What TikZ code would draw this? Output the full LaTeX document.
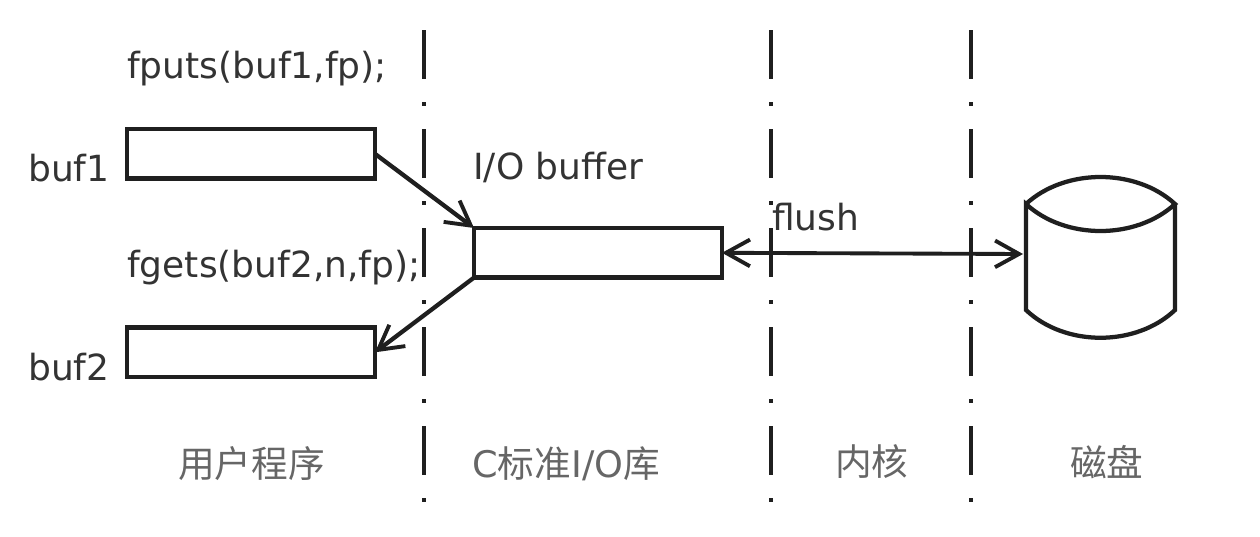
\documentclass[tikz,border=0pt]{standalone}
\usepackage{fontspec}
\setmainfont{DejaVu Sans}
\newfontfamily\cjk{Noto Sans CJK SC}
\usetikzlibrary{arrows.meta}
\tikzset{
  px/.style={x=0.75pt,y=-0.75pt},
  bufbox/.style={draw=black!88,line width=3.4pt,inner sep=0pt,outer sep=0pt,anchor=north west,minimum width=186pt,minimum height=37.2pt},
  lab/.style={text=black!80,font=\fontsize{27}{27}\selectfont,inner sep=0pt},
  zh/.style={text=black!60,font=\fontsize{27.5}{27.5}\selectfont,inner sep=0pt},
  divider/.style={draw=black!88,line width=3.2pt,dash pattern=on 37pt off 17.1pt on 3pt off 17.15pt},
  barb/.tip={Straight Barb[length=18pt,width=20pt,line width=2.9pt]},
  arr/.style={draw=black!88,line width=3.2pt,-barb},
  arrtwo/.style={draw=black!88,line width=2.9pt,barb-barb},
}
\begin{document}
\begin{tikzpicture}[px]
\useasboundingbox (0,0) rectangle (1260,536);
\fill[white] (0,0) rectangle (1260,536);
\coordinate (d1t) at (424,30); \coordinate (d1b) at (424,502);
\coordinate (d2t) at (771,30); \coordinate (d2b) at (771,502);
\coordinate (d3t) at (971,30); \coordinate (d3b) at (971,502);
\draw[divider] (d1t)--(d1b);
\draw[divider] (d2t)--(d2b);
\draw[divider] (d3t)--(d3b);
\node[bufbox] (b1) at (127,129) {};
\node[bufbox] (b2) at (127,327.5) {};
\node[bufbox] (io) at (474,228) {};
\node[lab,anchor=west] (t1) at (127,69) {fputs(buf1,fp);};
\node[lab,anchor=west] (t2) at (127,268) {fgets(buf2,n,fp);};
\node[lab,anchor=west] (l1) at (28,168) {buf1};
\node[lab,anchor=west] (l2) at (28,367) {buf2};
\node[lab,anchor=west] (t3) at (473,167) {I/O buffer};
\node[lab,anchor=west] (t4) at (772,217) {flush};
\node[zh,anchor=west] (c1) at (178,464) {\cjk 用户程序};
\node[zh,anchor=west] (c2) at (472,464) {C\cjk 标准\rmfamily I/O\cjk 库};
\node[zh,anchor=west] (c3) at (835,462) {\cjk 内核};
\node[zh,anchor=west] (c4) at (1070,462) {\cjk 磁盘};
\coordinate (dl) at (1026,204); \coordinate (dr) at (1175,204);
\coordinate (dbl) at (1026,310); \coordinate (dbr) at (1175,310);
\draw[draw=black!88,line width=3.2pt] (dl) .. controls (1065,168) and (1136,168) .. (dr) .. controls (1136,240) and (1065,240) .. (dl) -- (dbl) .. controls (1065,347) and (1136,347) .. (dbr) -- (dr);
\coordinate (disk) at (1023,254);
\draw[arr] (b1.east) -- (io.north west);
\draw[arr] (io.south west) -- (b2.east);
\draw[arrtwo] (io.east) -- (disk);
\end{tikzpicture}
\end{document}
